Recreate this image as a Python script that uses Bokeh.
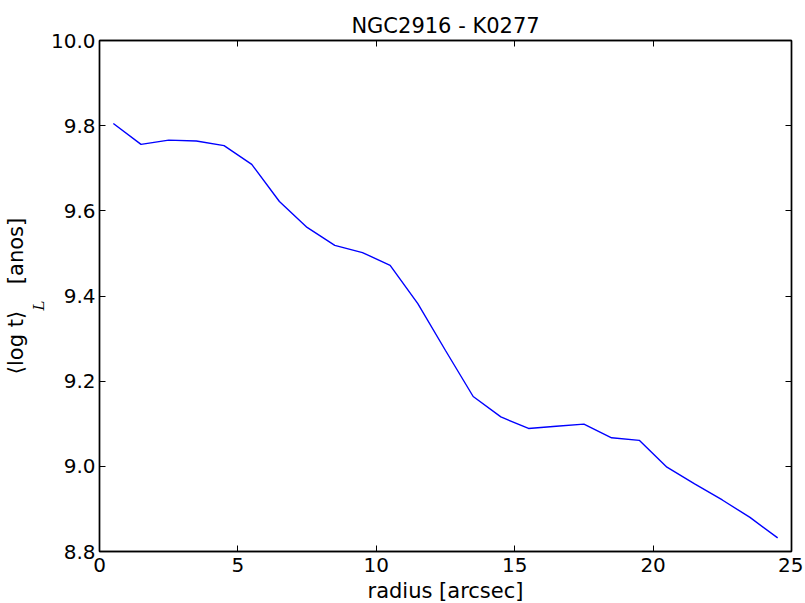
from bokeh.plotting import figure
from bokeh.models import LinearAxis, Range1d, FixedTicker, Title, NumeralTickFormatter
from bokeh.embed import file_html
from bokeh.resources import INLINE

# data
radius = [0.5, 1.5, 2.5, 3.5, 4.5, 5.5, 6.5, 7.5, 8.5, 9.5, 10.5, 11.5, 12.5,
          13.5, 14.5, 15.5, 16.5, 17.5, 18.5, 19.5, 20.5, 21.5, 22.5, 23.5, 24.5]
log_age = [9.805, 9.756, 9.766, 9.764, 9.753, 9.709, 9.622, 9.561, 9.519, 9.502,
           9.472, 9.382, 9.272, 9.164, 9.116, 9.089, 9.094, 9.099, 9.067, 9.061,
           8.998, 8.959, 8.921, 8.880, 8.832]
x_ticks = [0, 5, 10, 15, 20, 25]
y_ticks = [8.8, 9.0, 9.2, 9.4, 9.6, 9.8, 10.0]

FONT = "DejaVu Sans"
FS = "20px"
FS_LABEL = "21px"

p = figure(output_backend="svg", toolbar_location=None,
           x_range=Range1d(0, 25), y_range=Range1d(8.8, 10.0),
           title="NGC2916 - K0277")
p.frame_width = 692
p.frame_height = 511
p.min_border_left = 99
p.min_border_right = 12
p.min_border_top = 40
p.min_border_bottom = 50
p.background_fill_color = "white"
p.border_fill_color = "white"
p.outline_line_color = "black"
p.outline_line_width = 1.4
p.xgrid.visible = False
p.ygrid.visible = False

p.title.align = "center"
p.title.text_font = FONT
p.title.text_font_size = FS_LABEL
p.title.text_font_style = "normal"
p.title.text_color = "black"
p.title.standoff = 6

p.line(radius, log_age, line_color="#0000ff", line_width=1.4)

def style_axis(ax, ticks, show_labels):
    ax.ticker = FixedTicker(ticks=ticks)
    ax.minor_tick_line_color = None
    ax.major_tick_in = 6
    ax.major_tick_out = 0
    ax.major_tick_line_color = "black"
    ax.major_tick_line_width = 1.0
    ax.axis_line_color = "black"
    ax.axis_line_width = 1.4
    ax.major_label_text_font = FONT
    if show_labels:
        ax.major_label_text_font_size = FS
        ax.major_label_text_color = "black"
    else:
        ax.major_label_text_font_size = "1px"
        ax.major_label_text_color = None
        ax.major_label_standoff = 0

xa = p.xaxis[0]
ya = p.yaxis[0]
style_axis(xa, x_ticks, True)
style_axis(ya, y_ticks, True)
xa.major_label_standoff = 6
ya.major_label_standoff = 4
ya.formatter = NumeralTickFormatter(format="0.0")
xa.axis_label = "radius [arcsec]"
xa.axis_label_text_font = FONT
xa.axis_label_text_font_size = FS_LABEL
xa.axis_label_text_font_style = "normal"
xa.axis_label_text_color = "black"
xa.axis_label_standoff = 4

top = LinearAxis()
right = LinearAxis()
style_axis(top, x_ticks, False)
style_axis(right, y_ticks, False)
p.add_layout(top, "above")
p.add_layout(right, "right")

# y-axis label: subscript "L" (inner) and the main text (outer), as left-panel titles
sub_title = Title(text="L\u00a0\u00a0\u00a0\u00a0", align="center",
                  text_font="DejaVu Serif", text_font_style="italic",
                  text_font_size="15px", text_color="black", standoff=0)
main_title = Title(text="⟨log t⟩\u00a0\u00a0\u00a0\u00a0[anos]", align="center",
                   text_font=FONT, text_font_style="normal",
                   text_font_size=FS_LABEL, text_color="black", standoff=0)
p.add_layout(sub_title, "left")
p.add_layout(main_title, "left")

open("out.html", "w").write(file_html(p, INLINE))
